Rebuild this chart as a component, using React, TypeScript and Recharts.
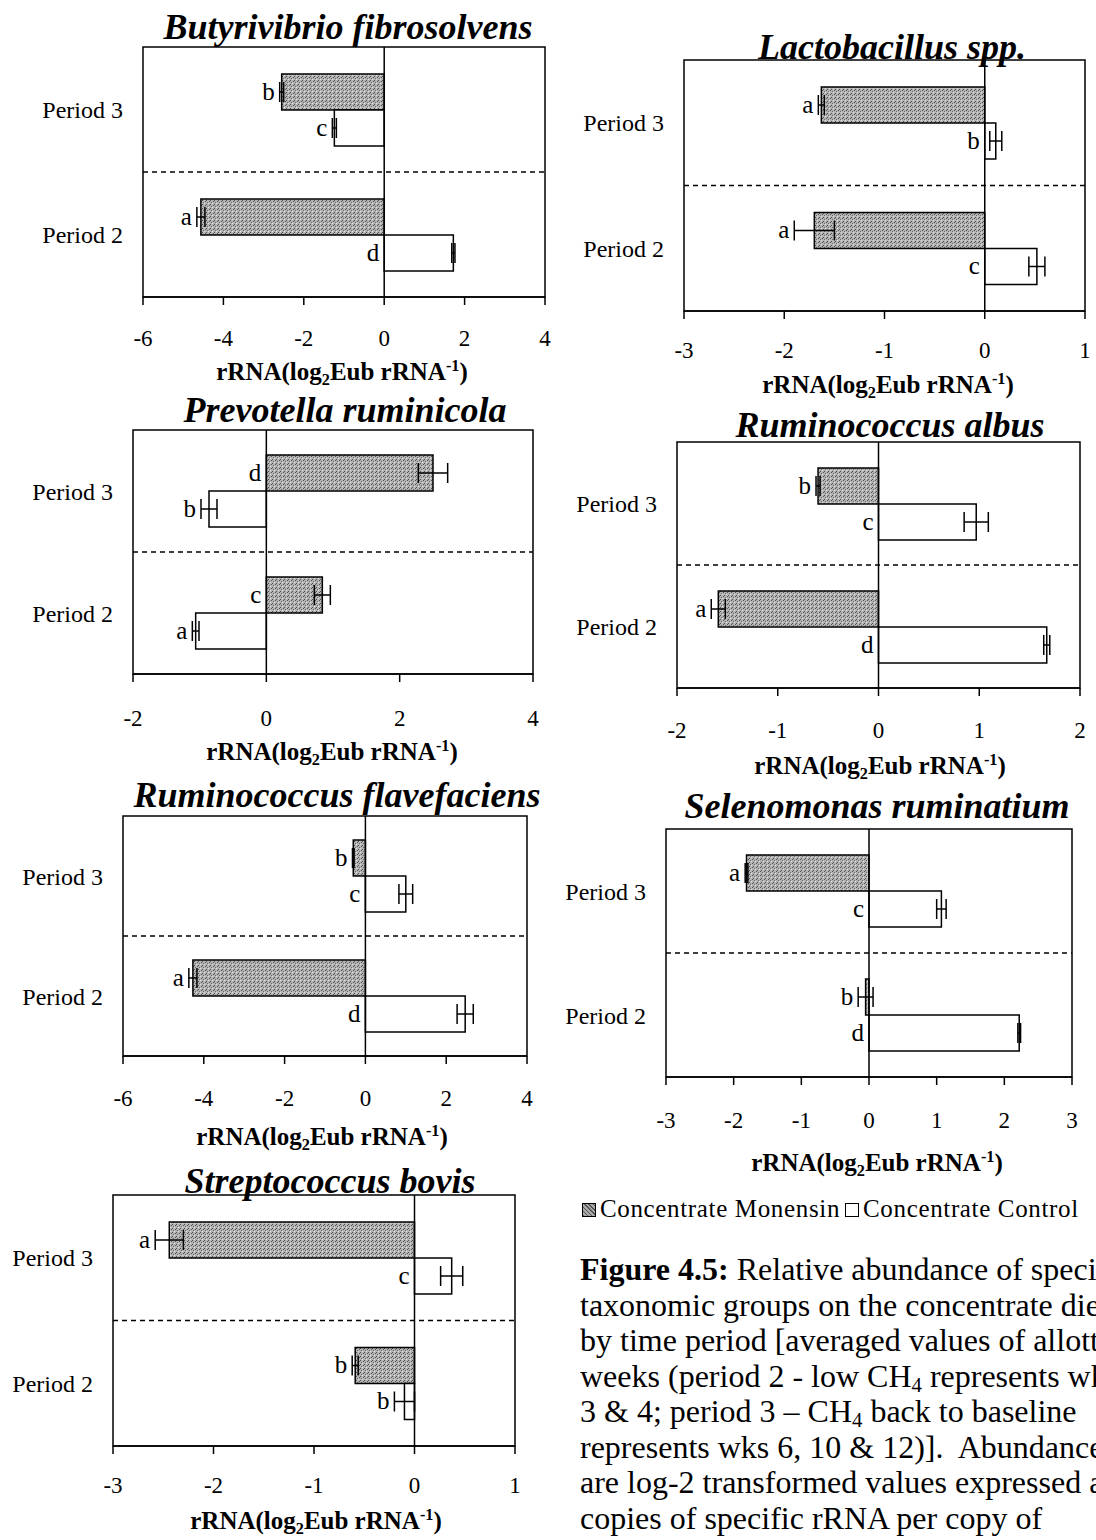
import React from 'react';
import { BarChart, Bar, XAxis, YAxis, ReferenceLine, ReferenceArea, ErrorBar, LabelList } from 'recharts';

const periods = ['Period 3', 'Period 2'];

// Butyrivibrio fibrosolvens
const butyMon = [-2.55, -4.56];
const butyMonErr = [0.05, 0.1];
const butyCtl = [-1.24, 1.72];
const butyCtlErr = [0.05, 0.04];
const butyMonSig = ['b', 'a'];
const butyCtlSig = ['c', 'd'];
const butyTicks = [-6, -4, -2, 0, 2, 4];

// Lactobacillus spp.
const lactoMon = [-1.63, -1.7];
const lactoMonErr = [0.03, 0.2];
const lactoCtl = [0.11, 0.52];
const lactoCtlErr = [0.06, 0.08];
const lactoMonSig = ['a', 'a'];
const lactoCtlSig = ['b', 'c'];
const lactoTicks = [-3, -2, -1, 0, 1];

// Prevotella ruminicola
const prevoMon = [2.5, 0.84];
const prevoMonErr = [0.22, 0.12];
const prevoCtl = [-0.86, -1.06];
const prevoCtlErr = [0.12, 0.05];
const prevoMonSig = ['d', 'c'];
const prevoCtlSig = ['b', 'a'];
const prevoTicks = [-2, 0, 2, 4];

// Ruminococcus albus
const albusMon = [-0.6, -1.59];
const albusMonErr = [0.02, 0.07];
const albusCtl = [0.97, 1.67];
const albusCtlErr = [0.12, 0.03];
const albusMonSig = ['b', 'a'];
const albusCtlSig = ['c', 'd'];
const albusTicks = [-2, -1, 0, 1, 2];

// Ruminococcus flavefaciens
const flavMon = [-0.3, -4.27];
const flavMonErr = [0.02, 0.1];
const flavCtl = [1.0, 2.47];
const flavCtlErr = [0.17, 0.2];
const flavMonSig = ['b', 'a'];
const flavCtlSig = ['c', 'd'];
const flavTicks = [-6, -4, -2, 0, 2, 4];

// Selenomonas ruminatium
const selenMon = [-1.81, -0.05];
const selenMonErr = [0.02, 0.11];
const selenCtl = [1.07, 2.22];
const selenCtlErr = [0.07, 0.02];
const selenMonSig = ['a', 'b'];
const selenCtlSig = ['c', 'd'];
const selenTicks = [-3, -2, -1, 0, 1, 2, 3];

// Streptococcus bovis
const bovisMon = [-2.44, -0.59];
const bovisMonErr = [0.14, 0.03];
const bovisCtl = [0.37, -0.1];
const bovisCtlErr = [0.11, 0.1];
const bovisMonSig = ['a', 'b'];
const bovisCtlSig = ['c', 'b'];
const bovisTicks = [-3, -2, -1, 0, 1];

const SERIF = '"Liberation Serif", "Times New Roman", serif';

type Panel = {
  title: string;
  mon: number[];
  monErr: number[];
  ctl: number[];
  ctlErr: number[];
  monSig: string[];
  ctlSig: string[];
  ticks: number[];
};

type Layout = {
  left: number;
  right: number;
  top: number;
  bottom: number;
  titleX: number;
  titleY: number;
  labelX: number;
  labelY: number;
  tickY: number;
};

const panels: { p: Panel; l: Layout }[] = [
  {
    p: { title: 'Butyrivibrio fibrosolvens', mon: butyMon, monErr: butyMonErr, ctl: butyCtl, ctlErr: butyCtlErr, monSig: butyMonSig, ctlSig: butyCtlSig, ticks: butyTicks },
    l: { left: 143, right: 545, top: 47, bottom: 297, titleX: 348, titleY: 27, labelX: 342, labelY: 372, tickY: 338 },
  },
  {
    p: { title: 'Lactobacillus spp.', mon: lactoMon, monErr: lactoMonErr, ctl: lactoCtl, ctlErr: lactoCtlErr, monSig: lactoMonSig, ctlSig: lactoCtlSig, ticks: lactoTicks },
    l: { left: 684, right: 1085, top: 60, bottom: 311, titleX: 892, titleY: 47, labelX: 888, labelY: 385, tickY: 350 },
  },
  {
    p: { title: 'Prevotella ruminicola', mon: prevoMon, monErr: prevoMonErr, ctl: prevoCtl, ctlErr: prevoCtlErr, monSig: prevoMonSig, ctlSig: prevoCtlSig, ticks: prevoTicks },
    l: { left: 133, right: 533, top: 430, bottom: 674, titleX: 345, titleY: 410, labelX: 332, labelY: 752, tickY: 718 },
  },
  {
    p: { title: 'Ruminococcus albus', mon: albusMon, monErr: albusMonErr, ctl: albusCtl, ctlErr: albusCtlErr, monSig: albusMonSig, ctlSig: albusCtlSig, ticks: albusTicks },
    l: { left: 677, right: 1080, top: 442, bottom: 688, titleX: 890, titleY: 425, labelX: 880, labelY: 766, tickY: 730 },
  },
  {
    p: { title: 'Ruminococcus flavefaciens', mon: flavMon, monErr: flavMonErr, ctl: flavCtl, ctlErr: flavCtlErr, monSig: flavMonSig, ctlSig: flavCtlSig, ticks: flavTicks },
    l: { left: 123, right: 527, top: 816, bottom: 1056, titleX: 337, titleY: 795, labelX: 322, labelY: 1137, tickY: 1098 },
  },
  {
    p: { title: 'Selenomonas ruminatium', mon: selenMon, monErr: selenMonErr, ctl: selenCtl, ctlErr: selenCtlErr, monSig: selenMonSig, ctlSig: selenCtlSig, ticks: selenTicks },
    l: { left: 666, right: 1072, top: 829, bottom: 1077, titleX: 877, titleY: 806, labelX: 877, labelY: 1163, tickY: 1120 },
  },
  {
    p: { title: 'Streptococcus bovis', mon: bovisMon, monErr: bovisMonErr, ctl: bovisCtl, ctlErr: bovisCtlErr, monSig: bovisMonSig, ctlSig: bovisCtlSig, ticks: bovisTicks },
    l: { left: 113, right: 515, top: 1195, bottom: 1446, titleX: 330, titleY: 1181, labelX: 316, labelY: 1521, tickY: 1485 },
  },
];

// significance letter sits left of the bar's leftmost point (incl. error bar when negative)
function sigLabel(vals: number[], errs: number[], sig: string[], ppu: number) {
  return (props: any) => {
    const vb = props.viewBox || {};
    const x = props.x ?? vb.x;
    const y = props.y ?? vb.y;
    const w = props.width ?? vb.width;
    const h = props.height ?? vb.height;
    const i = props.index;
    if (x == null || i == null) return null;
    const v = vals[i];
    let left = Math.min(x, x + w);
    if (v < 0) left -= errs[i] * ppu;
    return (
      <text x={left - 5} y={y + h / 2 - 1} textAnchor="end" dominantBaseline="central" fontFamily={SERIF} fontSize={25} fill="#000">
        {sig[i]}
      </text>
    );
  };
}

function SpeciesChart({ p, l }: { p: Panel; l: Layout }) {
  const yW = 110;
  const mt = 6;
  const mr = 6;
  const xAxisH = 80;
  const plotW = l.right - l.left;
  const plotH = l.bottom - l.top;
  const min = p.ticks[0];
  const max = p.ticks[p.ticks.length - 1];
  const ppu = plotW / (max - min);
  const tickMargin = l.tickY - l.bottom - 16;
  const data = periods.map((period, i) => ({
    period,
    mon: p.mon[i],
    monErr: p.monErr[i],
    ctl: p.ctl[i],
    ctlErr: p.ctlErr[i],
  }));

  return (
    <>
      <div
        style={{
          position: 'absolute',
          left: l.titleX - 300,
          width: 600,
          top: l.titleY - 18,
          textAlign: 'center',
          fontFamily: SERIF,
          fontStyle: 'italic',
          fontWeight: 'bold',
          fontSize: 36,
          lineHeight: '36px',
          whiteSpace: 'nowrap',
        }}
      >
        {p.title}
      </div>
      <div style={{ position: 'absolute', left: l.left - yW, top: l.top - mt }}>
        <BarChart
          layout="vertical"
          width={yW + plotW + mr}
          height={mt + plotH + xAxisH}
          data={data}
          margin={{ top: mt, right: mr, bottom: 0, left: 0 }}
          barGap={0}
          barSize={36}
        >
          <XAxis
            type="number"
            domain={[min, max]}
            ticks={p.ticks}
            interval={0}
            allowDataOverflow
            height={xAxisH}
            tickSize={8}
            tickMargin={tickMargin}
            axisLine={{ stroke: '#000', strokeWidth: 1.5 }}
            tickLine={{ stroke: '#000', strokeWidth: 1.5 }}
            tick={{ fill: '#000', fontSize: 23, fontFamily: SERIF }}
          />
          <YAxis
            type="category"
            dataKey="period"
            width={yW}
            axisLine={false}
            tickLine={false}
            tickSize={0}
            tickMargin={20}
            tick={{ fill: '#000', fontSize: 24, fontFamily: SERIF }}
          />
          <ReferenceArea
            x1={min}
            x2={max}
            y1="Period 3"
            y2="Period 2"
            ifOverflow="visible"
            fill="#fff"
            fillOpacity={0}
            stroke="#000"
            strokeWidth={1.5}
          />
          <ReferenceLine y="Period 3" position="end" stroke="#000" strokeWidth={1.5} strokeDasharray="5 4" />
          <Bar dataKey="mon" fill="url(#stipple)" stroke="#000" strokeWidth={1.5} isAnimationActive={false}>
            <ErrorBar dataKey="monErr" direction="x" width={10} stroke="#000" strokeWidth={1.5} isAnimationActive={false} />
            <LabelList dataKey="mon" content={sigLabel(p.mon, p.monErr, p.monSig, ppu)} />
          </Bar>
          <Bar dataKey="ctl" fill="#fff" stroke="#000" strokeWidth={1.5} isAnimationActive={false}>
            <ErrorBar dataKey="ctlErr" direction="x" width={10} stroke="#000" strokeWidth={1.5} isAnimationActive={false} />
            <LabelList dataKey="ctl" content={sigLabel(p.ctl, p.ctlErr, p.ctlSig, ppu)} />
          </Bar>
          <ReferenceLine x={0} stroke="#000" strokeWidth={1.5} />
        </BarChart>
      </div>
      <div
        style={{
          position: 'absolute',
          left: l.labelX - 200,
          width: 400,
          top: l.labelY - 15,
          textAlign: 'center',
          fontFamily: SERIF,
          fontWeight: 'bold',
          fontSize: 25,
          lineHeight: '30px',
          whiteSpace: 'nowrap',
        }}
      >
        rRNA(log<span style={{ fontSize: '0.65em', verticalAlign: '-0.3em', lineHeight: 0 }}>2</span>Eub rRNA
        <span style={{ fontSize: '0.65em', verticalAlign: '0.55em', lineHeight: 0 }}>-1</span>)
      </div>
    </>
  );
}

const sub = { fontSize: '0.65em', verticalAlign: '-0.25em', lineHeight: 0 } as const;

export default function App() {
  return (
    <div
      style={{
        position: 'absolute',
        left: 0,
        top: 0,
        width: 1096,
        height: 1540,
        overflow: 'hidden',
        background: '#fff',
        color: '#000',
        fontFamily: SERIF,
      }}
    >
      <svg width={0} height={0} style={{ position: 'absolute' }}>
        <defs>
          <pattern id="stipple" width={4} height={4} patternUnits="userSpaceOnUse">
            <rect width={4} height={4} fill="#b4b4b4" />
            <rect x={0} y={0} width={1} height={1} fill="#555" />
            <rect x={2} y={1} width={1} height={1} fill="#6a6a6a" />
            <rect x={1} y={3} width={1} height={1} fill="#505050" />
            <rect x={3} y={2} width={1} height={1} fill="#e0e0e0" />
          </pattern>
        </defs>
      </svg>

      {panels.map((d, i) => (
        <SpeciesChart key={i} p={d.p} l={d.l} />
      ))}

      <div style={{ position: 'absolute', left: 582, top: 1195, fontSize: 25, lineHeight: '28px', letterSpacing: 0.65, whiteSpace: 'nowrap' }}>
        <span
          style={{
            display: 'inline-block',
            width: 12,
            height: 12,
            marginRight: 4,
            border: '1px solid #000',
            background: 'repeating-linear-gradient(45deg, #555 0 1px, #aaa 1px 3px)',
          }}
        />
        Concentrate Monensin
        <span style={{ display: 'inline-block', width: 12, height: 12, margin: '0 4px 0 5px', border: '1px solid #000', background: '#fff' }} />
        Concentrate Control
      </div>

      <div style={{ position: 'absolute', left: 580, top: 1252, width: 516, overflow: 'hidden', fontSize: 32, lineHeight: '35.5px', whiteSpace: 'nowrap' }}>
        <div>
          <b>Figure 4.5:</b> Relative abundance of specific
        </div>
        <div>taxonomic groups on the concentrate diet</div>
        <div>by time period [averaged values of allotted</div>
        <div>
          weeks (period 2 - low CH<span style={sub}>4</span> represents wks
        </div>
        <div>
          3 &amp; 4; period 3 – CH<span style={sub}>4</span> back to baseline
        </div>
        <div>represents wks 6, 10 &amp; 12)].&nbsp; Abundances</div>
        <div>are log-2 transformed values expressed as</div>
        <div>copies of specific rRNA per copy of</div>
      </div>
    </div>
  );
}
